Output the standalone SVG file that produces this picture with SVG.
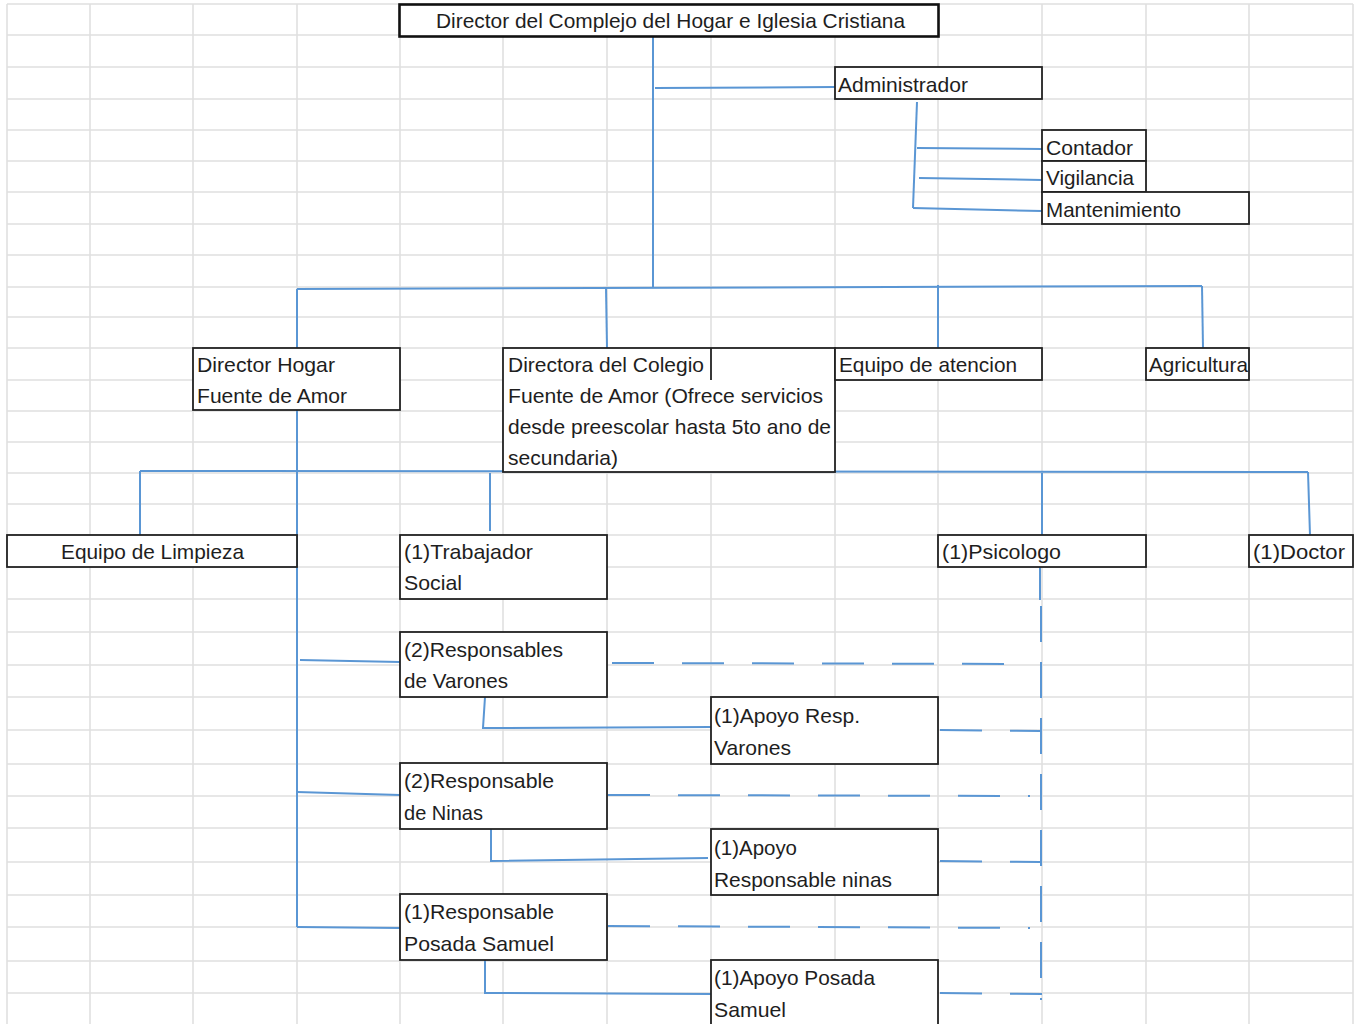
<svg xmlns="http://www.w3.org/2000/svg" width="1360" height="1024" viewBox="0 0 1360 1024">
<style>
.grid{stroke:#e0e0e0;stroke-width:1.6;fill:none}
.box{fill:#ffffff;stroke:#222222;stroke-width:1.8}
.title{fill:#ffffff;stroke:#111111;stroke-width:2.6}
.t{font-family:"Liberation Sans",Arial,sans-serif;font-size:21px;fill:#1e1e1e}
.c{stroke:#5a96d4;stroke-width:2;fill:none}
.d{stroke:#5a96d4;stroke-width:2;fill:none;stroke-dasharray:42 28}
.dv{stroke:#5a96d4;stroke-width:2;fill:none;stroke-dasharray:36 20}
</style>
<rect x="0" y="0" width="1360" height="1024" fill="#ffffff"/>
<g id="grid">
<path class="grid" d="M7 4V1024M90 4V1024M193 4V1024M297 4V1024M400 4V1024M503 4V1024M607 4V1024M711 4V1024M835 4V1024M938 4V1024M1042 4V1024M1146 4V1024M1249 4V1024M1353 4V1024"/>
<path class="grid" d="M7 4H1353M7 35H1353M7 67H1353M7 99H1353M7 130H1353M7 161H1353M7 192H1353M7 224H1353M7 255H1353M7 287H1353M7 317H1353M7 348H1353M7 380H1353M7 411H1353M7 442H1353M7 473H1353M7 504H1353M7 535H1353M7 567H1353M7 599H1353M7 632H1353M7 665H1353M7 697H1353M7 730H1353M7 764H1353M7 796H1353M7 828H1353M7 862H1353M7 895H1353M7 927H1353M7 961H1353M7 993H1353"/>
</g>
<g id="connectors">
<path class="c" d="M653 36V287"/>
<path class="c" d="M655 88L835 87"/>
<path class="c" d="M917 102L913 208"/>
<path class="c" d="M917 148L1042 149"/>
<path class="c" d="M919 178L1042 180"/>
<path class="c" d="M913 208L1042 211"/>
<path class="c" d="M297 289L1202 286"/>
<path class="c" d="M297 289V348"/>
<path class="c" d="M606 288L607 348"/>
<path class="c" d="M938 285V348"/>
<path class="c" d="M1202 286L1203 348"/>
<path class="c" d="M297 410V927"/>
<path class="c" d="M140 471L1308 472"/>
<path class="c" d="M140 471V535"/>
<path class="c" d="M490 473V531"/>
<path class="c" d="M1042 473V535"/>
<path class="c" d="M1308 472L1310 535"/>
<path class="c" d="M300 660L400 662"/>
<path class="c" d="M297 792L400 795"/>
<path class="c" d="M297 927L400 928"/>
<path class="c" d="M485 697L483 728L711 727"/>
<path class="c" d="M491 829V861L708 858"/>
<path class="c" d="M485 960V993L711 994"/>
<path class="c" d="M1040 567V600"/>
<path class="dv" d="M1041 606V1000"/>
<path class="d" d="M612 663L1030 664"/>
<path class="d" d="M940 730L1040 731"/>
<path class="d" d="M608 795L1030 796"/>
<path class="d" d="M940 861L1040 862"/>
<path class="d" d="M608 926L1030 928"/>
<path class="d" d="M940 993L1042 994"/>
</g>
<g id="node-director">
<rect class="title" x="399.5" y="4.5" width="539" height="32"/>
<text class="t" x="436" y="28" textLength="469" lengthAdjust="spacingAndGlyphs">Director del Complejo del Hogar e Iglesia Cristiana</text>
</g>
<g id="node-administrador">
<rect class="box" x="835" y="67" width="207" height="32"/>
<text class="t" x="838" y="92" textLength="130" lengthAdjust="spacingAndGlyphs">Administrador</text>
</g>
<g id="node-contador">
<rect class="box" x="1042" y="130" width="104" height="31"/>
<text class="t" x="1046" y="155" textLength="87" lengthAdjust="spacingAndGlyphs">Contador</text>
</g>
<g id="node-vigilancia">
<rect class="box" x="1042" y="161" width="104" height="31"/>
<text class="t" x="1046" y="185" textLength="88" lengthAdjust="spacingAndGlyphs">Vigilancia</text>
</g>
<g id="node-mantenimiento">
<rect class="box" x="1042" y="192" width="207" height="32"/>
<text class="t" x="1046" y="217" textLength="135" lengthAdjust="spacingAndGlyphs">Mantenimiento</text>
</g>
<g id="node-director-hogar">
<rect class="box" x="193" y="348" width="207" height="62"/>
<text class="t" x="197" y="372" textLength="138" lengthAdjust="spacingAndGlyphs">Director Hogar</text>
<text class="t" x="197" y="403" textLength="150" lengthAdjust="spacingAndGlyphs">Fuente de Amor</text>
</g>
<g id="node-directora-colegio">
<rect class="box" x="503" y="348" width="332" height="124"/>
<path class="box" d="M711 348V380"/>
<text class="t" x="508" y="372" textLength="196" lengthAdjust="spacingAndGlyphs">Directora del Colegio</text>
<text class="t" x="508" y="403" textLength="315" lengthAdjust="spacingAndGlyphs">Fuente de Amor (Ofrece servicios</text>
<text class="t" x="508" y="434" textLength="323" lengthAdjust="spacingAndGlyphs">desde preescolar hasta 5to ano de</text>
<text class="t" x="508" y="465" textLength="110" lengthAdjust="spacingAndGlyphs">secundaria)</text>
</g>
<g id="node-equipo-atencion">
<rect class="box" x="835" y="348" width="207" height="32"/>
<text class="t" x="839" y="372" textLength="178" lengthAdjust="spacingAndGlyphs">Equipo de atencion</text>
</g>
<g id="node-agricultura">
<rect class="box" x="1146" y="348" width="103" height="32"/>
<text class="t" x="1149" y="372" textLength="99" lengthAdjust="spacingAndGlyphs">Agricultura</text>
</g>
<g id="node-limpieza">
<rect class="box" x="7" y="535" width="290" height="32"/>
<text class="t" x="61" y="559" textLength="183" lengthAdjust="spacingAndGlyphs">Equipo de Limpieza</text>
</g>
<g id="node-trabajador">
<rect class="box" x="400" y="535" width="207" height="64"/>
<text class="t" x="404" y="559" textLength="129" lengthAdjust="spacingAndGlyphs">(1)Trabajador</text>
<text class="t" x="404" y="590" textLength="58" lengthAdjust="spacingAndGlyphs">Social</text>
</g>
<g id="node-psicologo">
<rect class="box" x="938" y="535" width="208" height="32"/>
<text class="t" x="942" y="559" textLength="119" lengthAdjust="spacingAndGlyphs">(1)Psicologo</text>
</g>
<g id="node-doctor">
<rect class="box" x="1249" y="535" width="104" height="32"/>
<text class="t" x="1253" y="559" textLength="92" lengthAdjust="spacingAndGlyphs">(1)Doctor</text>
</g>
<g id="node-resp-varones">
<rect class="box" x="400" y="632" width="207" height="65"/>
<text class="t" x="404" y="657" textLength="159" lengthAdjust="spacingAndGlyphs">(2)Responsables</text>
<text class="t" x="404" y="688" textLength="104" lengthAdjust="spacingAndGlyphs">de Varones</text>
</g>
<g id="node-apoyo-varones">
<rect class="box" x="711" y="697" width="227" height="67"/>
<text class="t" x="714" y="723" textLength="146" lengthAdjust="spacingAndGlyphs">(1)Apoyo Resp.</text>
<text class="t" x="714" y="755" textLength="77" lengthAdjust="spacingAndGlyphs">Varones</text>
</g>
<g id="node-resp-ninas">
<rect class="box" x="400" y="763" width="207" height="66"/>
<text class="t" x="404" y="788" textLength="150" lengthAdjust="spacingAndGlyphs">(2)Responsable</text>
<text class="t" x="404" y="820" textLength="79" lengthAdjust="spacingAndGlyphs">de Ninas</text>
</g>
<g id="node-apoyo-ninas">
<rect class="box" x="711" y="829" width="227" height="66"/>
<text class="t" x="714" y="855" textLength="83" lengthAdjust="spacingAndGlyphs">(1)Apoyo</text>
<text class="t" x="714" y="887" textLength="178" lengthAdjust="spacingAndGlyphs">Responsable ninas</text>
</g>
<g id="node-resp-posada">
<rect class="box" x="400" y="894" width="207" height="66"/>
<text class="t" x="404" y="919" textLength="150" lengthAdjust="spacingAndGlyphs">(1)Responsable</text>
<text class="t" x="404" y="951" textLength="150" lengthAdjust="spacingAndGlyphs">Posada Samuel</text>
</g>
<g id="node-apoyo-posada">
<rect class="box" x="711" y="960" width="227" height="70"/>
<text class="t" x="714" y="985" textLength="161" lengthAdjust="spacingAndGlyphs">(1)Apoyo Posada</text>
<text class="t" x="714" y="1017" textLength="72" lengthAdjust="spacingAndGlyphs">Samuel</text>
</g>
</svg>
